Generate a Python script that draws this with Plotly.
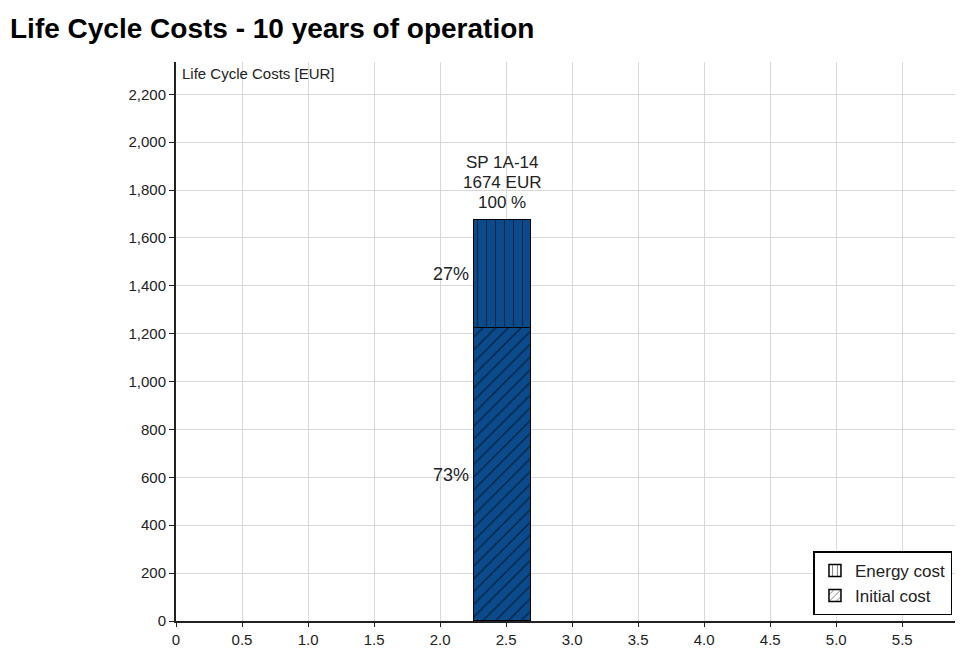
import plotly.graph_objects as go

# data
product = "SP 1A-14"
bar_x = [2.47]
initial_cost = [1222]
energy_cost = [452]
total_cost = [1674]
pct_initial = "73%"
pct_energy = "27%"

x_tickvals = [0, 0.5, 1.0, 1.5, 2.0, 2.5, 3.0, 3.5, 4.0, 4.5, 5.0, 5.5]
x_ticktext = ["0", "0.5", "1.0", "1.5", "2.0", "2.5", "3.0", "3.5", "4.0", "4.5", "5.0", "5.5"]
y_tickvals = [0, 200, 400, 600, 800, 1000, 1200, 1400, 1600, 1800, 2000, 2200]

bar_color = "#0b4a8b"
bar_width = 0.43

# page body adds an 8px margin, so the figure is a little smaller than the window
W, H = 955, 640

fig = go.Figure()

# actual stacked bar
fig.add_trace(go.Bar(x=bar_x, y=initial_cost, width=bar_width, showlegend=False,
                     marker=dict(color=bar_color, line=dict(color="black", width=1.5),
                                 pattern=dict(shape="/", fgcolor="black", size=9, solidity=0.15))))
fig.add_trace(go.Bar(x=bar_x, y=energy_cost, width=bar_width, showlegend=False,
                     marker=dict(color=bar_color, line=dict(color="black", width=1.5),
                                 pattern=dict(shape="|", fgcolor="black", size=9, solidity=0.12))))

# legend-only entries (white swatches with black hatching)
fig.add_trace(go.Bar(x=[None], y=[None], name="Energy cost",
                     marker=dict(color="white", line=dict(color="black", width=1.5),
                                 pattern=dict(shape="|", fgcolor="black", size=6, solidity=0.2))))
fig.add_trace(go.Bar(x=[None], y=[None], name="Initial cost",
                     marker=dict(color="white", line=dict(color="black", width=1.5),
                                 pattern=dict(shape="/", fgcolor="black", size=6, solidity=0.2))))

lbl_font = dict(size=17, color="#222")
top_lines = [product, f"{total_cost[0]} EUR", "100 %"]
for line, shift in zip(top_lines, [58, 38, 18]):
    fig.add_annotation(x=bar_x[0], y=total_cost[0], yshift=shift, yanchor="middle",
                       showarrow=False, text=line, font=lbl_font)
fig.add_annotation(x=bar_x[0] - bar_width / 2, y=initial_cost[0] + energy_cost[0] / 2, xshift=-3,
                   xanchor="right", showarrow=False, text=pct_energy, font=dict(size=18, color="#222"))
fig.add_annotation(x=bar_x[0] - bar_width / 2, y=initial_cost[0] / 2, xshift=-3,
                   xanchor="right", showarrow=False, text=pct_initial, font=dict(size=18, color="#222"))
fig.add_annotation(xref="paper", yref="paper", x=0, y=1, xshift=4, yshift=-1,
                   xanchor="left", yanchor="top", showarrow=False,
                   text="Life Cycle Costs [EUR]", font=dict(size=15, color="#222"))

fig.update_layout(
    width=W, height=H,
    margin=dict(l=168, r=0, t=54, b=27),
    paper_bgcolor="white", plot_bgcolor="white",
    font=dict(family="Liberation Sans, Arial, sans-serif", color="#222"),
    title=dict(text="<b>Life Cycle Costs - 10 years of operation</b>",
               x=2 / W, xanchor="left", y=1 - 20 / H, yanchor="middle",
               font=dict(size=28, color="black")),
    barmode="stack",
    bargap=0,
    legend=dict(x=0.81, xanchor="left", y=0.01, yanchor="bottom",
                bordercolor="black", borderwidth=1.5, bgcolor="white",
                font=dict(size=17, color="#222"), traceorder="normal",
                tracegroupgap=4),
)
fig.update_xaxes(range=[0, 5.96], tickvals=x_tickvals, ticktext=x_ticktext,
                 showgrid=True, gridcolor="#d9d9d9", gridwidth=1,
                 showline=True, linecolor="#222", linewidth=1.5,
                 ticks="outside", ticklen=4, tickcolor="#222",
                 tickfont=dict(size=15), zeroline=False)
fig.update_yaxes(range=[0, 2335], tickvals=y_tickvals, tickformat=",d",
                 showgrid=True, gridcolor="#d9d9d9", gridwidth=1,
                 showline=True, linecolor="#222", linewidth=2,
                 ticks="outside", ticklen=5, tickcolor="#222",
                 tickfont=dict(size=15), zeroline=False)

fig.write_html("out.html")
